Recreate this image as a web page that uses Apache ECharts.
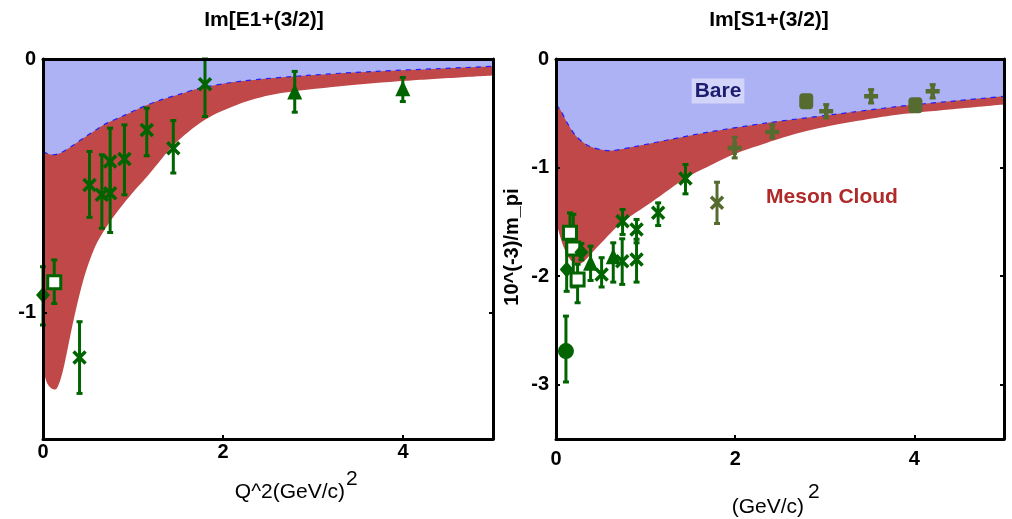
<!DOCTYPE html>
<html>
<head>
<meta charset="utf-8">
<script src="https://cdn.jsdelivr.net/npm/echarts@6/dist/echarts.min.js"></script>
<style>
html,body{margin:0;padding:0;background:#fff;}
#c{width:1012px;height:519px;}
</style>
</head>
<body>
<div id="c"></div>
<script>
// ---------------- data ----------------
const titles = ['Im[E1+(3/2)]', 'Im[S1+(3/2)]'];
const xTickLabels = [0, 2, 4];
const leftYTickLabels = [0, -1];
const rightYTickLabels = [0, -1, -2, -3];

// Left panel bands
const leftBareX = [0, 0.06, 0.118, 0.2, 0.34, 0.45, 0.6, 0.71, 0.876, 1.05, 1.264, 1.5, 1.744, 2.19, 2.93, 3.67, 4.4, 5];
const leftBareY = [-0.365, -0.375, -0.378, -0.37, -0.339, -0.312, -0.277, -0.253, -0.227, -0.198, -0.167, -0.141, -0.115, -0.088, -0.065, -0.049, -0.038, -0.029];
const leftCloudX = [0, 0.04, 0.09, 0.136, 0.19, 0.247, 0.34, 0.45, 0.58, 0.71, 0.93, 1.19, 1.45, 1.8, 2.2, 2.56, 3.3, 4.03, 5];
const leftCloudY = [-1.22, -1.275, -1.30, -1.305, -1.27, -1.19, -1.03, -0.87, -0.74, -0.66, -0.556, -0.45, -0.34, -0.24, -0.175, -0.14, -0.108, -0.086, -0.065];

// Left panel data points
const leftPtX = [0, 0.125, 0.406, 0.517, 0.654, 0.746, 0.746, 0.905, 1.153, 1.448, 1.8, 2.797, 3.998];
const leftPtY = [-0.932, -0.881, -1.178, -0.497, -0.536, -0.53, -0.405, -0.395, -0.28, -0.352, -0.10, -0.128, -0.115];
const leftPtLo = [-1.05, -0.965, -1.32, -0.625, -0.668, -0.685, -0.52, -0.536, -0.382, -0.45, -0.227, -0.21, -0.168];
const leftPtHi = [-0.82, -0.793, -1.037, -0.365, -0.378, -0.40, -0.273, -0.26, -0.194, -0.243, 0, -0.049, -0.073];
const leftPtMark = ['diamond', 'openSquare', 'x', 'x', 'x', 'x', 'x', 'x', 'x', 'x', 'x', 'triangle', 'triangle'];
const leftPtSet = ['a', 'a', 'a', 'a', 'a', 'a', 'a', 'a', 'a', 'a', 'a', 'a', 'a'];

// Right panel bands
const rightBareX = [0, 0.05, 0.115, 0.226, 0.375, 0.598, 0.895, 1.267, 1.71, 2.35, 3.09, 3.83, 4.4, 5];
const rightBareY = [-0.42, -0.47, -0.574, -0.712, -0.804, -0.844, -0.804, -0.742, -0.672, -0.589, -0.512, -0.436, -0.39, -0.344];
const rightCloudX = [0, 0.08, 0.16, 0.245, 0.45, 0.71, 1.08, 1.452, 1.75, 1.976, 2.35, 2.72, 3.09, 3.46, 3.83, 4.39, 5];
const rightCloudY = [-1.5, -1.72, -1.85, -1.89, -1.74, -1.524, -1.31, -1.095, -0.97, -0.88, -0.773, -0.68, -0.611, -0.558, -0.512, -0.466, -0.42];

// Right panel data points
const rightPtX = [0.111, 0.119, 0.156, 0.193, 0.241, 0.283, 0.386, 0.509, 0.639, 0.739, 0.743, 0.899, 0.899, 1.14, 1.445, 1.797, 1.994, 2.414, 2.793, 3.016, 3.517, 4.011, 4.204];
const rightPtY = [-2.69, -1.938, -1.6, -1.745, -2.03, -1.78, -1.877, -1.984, -1.816, -1.862, -1.494, -1.57, -1.846, -1.417, -1.101, -1.325, -0.819, -0.672, -0.39, -0.482, -0.344, -0.427, -0.298];
const rightPtLo = [-2.975, -2.14, -1.76, -2.1, -2.245, -1.85, -2.04, -2.1, -2.055, -2.076, -1.616, -1.693, -2.055, -1.534, -1.242, -1.515, -0.911, -0.727, -0.42, -0.543, -0.405, -0.45, -0.359];
const rightPtHi = [-2.368, -1.6, -1.417, -1.43, -1.89, -1.70, -1.724, -1.83, -1.693, -1.656, -1.386, -1.478, -1.66, -1.325, -0.972, -1.135, -0.721, -0.604, -0.36, -0.42, -0.282, -0.40, -0.236];
const rightPtMark = ['circle', 'diamond', 'openSquare', 'openSquare', 'openSquare', 'diamond', 'triangle', 'x', 'triangle', 'x', 'x', 'x', 'x', 'x', 'x', 'x', 'plus', 'plus', 'square', 'plus', 'plus', 'square', 'plus'];
const rightPtSet = ['a', 'a', 'a', 'a', 'a', 'a', 'a', 'a', 'a', 'a', 'a', 'a', 'a', 'a', 'a', 'b', 'b', 'b', 'b', 'b', 'b', 'b', 'b'];

// ---------------- styling ----------------
const FONT = 'Liberation Sans, Arial, sans-serif';
const SET_COLOR = { a: '#006400', b: '#556b2f' };
const BLUE_FILL = '#adb2f5';
const RED_FILL = '#c04848';
const MARK = {
  diamond:    { symbol: 'diamond', size: [14, 16], fill: true },
  openSquare: { symbol: 'rect', size: 13, open: true },
  x:          { symbol: 'path://M0,0L10,10M10,0L0,10', size: 12, stroke: 3.5 },
  plus:       { symbol: 'path://M5,0L5,10M0,5L10,5', size: 14, stroke: 4.5 },
  triangle:   { symbol: 'triangle', size: [15, 16], fill: true },
  circle:     { symbol: 'circle', size: 16, fill: true },
  square:     { symbol: 'roundRect', size: [14, 16], fill: true }
};

function pairs(xs, ys) { return xs.map((x, i) => [x, ys[i]]); }

function pointItems(xs, ys, marks, sets) {
  return xs.map((x, i) => {
    const m = MARK[marks[i]], c = SET_COLOR[sets[i]];
    let style;
    if (m.fill) style = { color: c, borderWidth: 0, opacity: 1 };
    else if (m.open) style = { color: '#fff', borderColor: c, borderWidth: 3, opacity: 1 };
    else style = { color: 'rgba(0,0,0,0)', borderColor: c, borderWidth: m.stroke, opacity: 1 };
    return { value: [x, ys[i]], symbol: m.symbol, symbolSize: m.size, itemStyle: style };
  });
}

function errItems(xs, lo, hi, sets) {
  return xs.map((x, i) => ({ value: [x, lo[i], hi[i]], itemStyle: { color: SET_COLOR[sets[i]] } }));
}

function errRender(params, api) {
  const x = api.value(0);
  const p1 = api.coord([x, api.value(1)]);
  const p2 = api.coord([x, api.value(2)]);
  const color = api.visual('color');
  const st = { stroke: color, lineWidth: 3 };
  const cw = 3;
  return {
    type: 'group',
    children: [
      { type: 'line', shape: { x1: p1[0], y1: p1[1], x2: p2[0], y2: p2[1] }, style: st },
      { type: 'line', shape: { x1: p1[0] - cw, y1: p1[1], x2: p1[0] + cw, y2: p1[1] }, style: st },
      { type: 'line', shape: { x1: p2[0] - cw, y1: p2[1], x2: p2[0] + cw, y2: p2[1] }, style: st }
    ]
  };
}

const grids = [
  { left: 43, top: 59, width: 450, height: 380 },
  { left: 556, top: 59, width: 448, height: 380 }
];

function xAxes(gi) {
  const base = { gridIndex: gi, type: 'value', min: 0, max: 5, z: 10, splitLine: { show: false } };
  return [
    Object.assign({}, base, {
      position: 'bottom',
      axisLine: { show: true, onZero: false, lineStyle: { color: '#000', width: 3 } },
      axisTick: { show: true, inside: true, length: 4, lineStyle: { color: '#000', width: 2 }, customValues: xTickLabels },
      axisLabel: { show: true, customValues: xTickLabels, color: '#000', fontSize: 20, fontWeight: 'bold', fontFamily: FONT, margin: gi === 0 ? 3 : 10 }
    }),
    Object.assign({}, base, {
      position: 'top',
      axisLine: { show: true, onZero: false, lineStyle: { color: '#000', width: 3 } },
      axisTick: { show: false },
      axisLabel: { show: false }
    })
  ];
}

function yAxes(gi, min, labels) {
  const base = { gridIndex: gi, type: 'value', min: min, max: 0, z: 10, splitLine: { show: false } };
  const tickVals = labels.filter(v => v !== 0);
  return [
    Object.assign({}, base, {
      position: 'left',
      axisLine: { show: true, onZero: false, lineStyle: { color: '#000', width: 3 } },
      axisTick: { show: true, inside: true, length: 4, lineStyle: { color: '#000', width: 2 }, customValues: tickVals },
      axisLabel: { show: true, customValues: labels, color: '#000', fontSize: 20, fontWeight: 'bold', fontFamily: FONT, margin: 7 }
    }),
    Object.assign({}, base, {
      position: 'right',
      axisLine: { show: true, onZero: false, lineStyle: { color: '#000', width: 3 } },
      axisTick: { show: true, inside: true, length: 4, lineStyle: { color: '#000', width: 2 }, customValues: tickVals },
      axisLabel: { show: false }
    })
  ];
}

function bandSeries(xi, yi, cloudX, cloudY, bareX, bareY) {
  return [
    {
      type: 'line', xAxisIndex: xi, yAxisIndex: yi, data: pairs(cloudX, cloudY),
      smooth: 0.3, showSymbol: false, silent: true, z: 1,
      lineStyle: { width: 0 }, areaStyle: { origin: 'end', color: RED_FILL, opacity: 1 }
    },
    {
      type: 'line', xAxisIndex: xi, yAxisIndex: yi, data: pairs(bareX, bareY),
      smooth: 0.3, showSymbol: false, silent: true, z: 2,
      lineStyle: { width: 1.2, color: '#2020ff', type: [5, 5] },
      areaStyle: { origin: 'end', color: BLUE_FILL, opacity: 1 }
    }
  ];
}

function pointSeries(xi, yi, xs, ys, lo, hi, marks, sets) {
  return [
    { type: 'custom', xAxisIndex: xi, yAxisIndex: yi, renderItem: errRender, data: errItems(xs, lo, hi, sets), z: 5, silent: true, clip: false },
    { type: 'scatter', xAxisIndex: xi, yAxisIndex: yi, data: pointItems(xs, ys, marks, sets), z: 6, silent: true }
  ];
}

const option = {
  backgroundColor: '#fff',
  animation: false,
  title: [
    { text: titles[0], left: 259, top: 5, textAlign: 'center', textStyle: { fontSize: 21, fontWeight: 'bold', fontFamily: FONT, color: '#000' } },
    { text: titles[1], left: 764, top: 5, textAlign: 'center', textStyle: { fontSize: 21, fontWeight: 'bold', fontFamily: FONT, color: '#000' } }
  ],
  grid: grids,
  xAxis: [].concat(xAxes(0), xAxes(1)),
  yAxis: [].concat(yAxes(0, -1.5, leftYTickLabels), yAxes(1, -3.5, rightYTickLabels)),
  series: [].concat(
    bandSeries(0, 0, leftCloudX, leftCloudY, leftBareX, leftBareY),
    pointSeries(0, 0, leftPtX, leftPtY, leftPtLo, leftPtHi, leftPtMark, leftPtSet),
    bandSeries(2, 2, rightCloudX, rightCloudY, rightBareX, rightBareY),
    pointSeries(2, 2, rightPtX, rightPtY, rightPtLo, rightPtHi, rightPtMark, rightPtSet)
  ),
  graphic: [
    { type: 'text', x: 345, y: 492, z: 20, style: { text: 'Q^2(GeV/c)', font: '21px ' + FONT, fill: '#000', textAlign: 'right', textVerticalAlign: 'middle' } },
    { type: 'text', x: 346, y: 479, z: 20, style: { text: '2', font: '21px ' + FONT, fill: '#000', textAlign: 'left', textVerticalAlign: 'middle' } },
    { type: 'text', x: 804, y: 507, z: 20, style: { text: '(GeV/c)', font: '21px ' + FONT, fill: '#000', textAlign: 'right', textVerticalAlign: 'middle' } },
    { type: 'text', x: 808, y: 492, z: 20, style: { text: '2', font: '21px ' + FONT, fill: '#000', textAlign: 'left', textVerticalAlign: 'middle' } },
    { type: 'text', x: 512, y: 247, rotation: Math.PI / 2, z: 20, style: { text: '10^(-3)/m_pi', font: 'bold 20px ' + FONT, fill: '#000', textAlign: 'center', textVerticalAlign: 'middle' } },
    { type: 'text', x: 718, y: 91, z: 20, style: { text: 'Bare', font: 'bold 21px ' + FONT, fill: '#1c1c70', textAlign: 'center', textVerticalAlign: 'middle', backgroundColor: 'rgba(255,255,255,0.45)', padding: [2, 3] } },
    { type: 'text', x: 832, y: 197, z: 20, style: { text: 'Meson Cloud', font: 'bold 21px ' + FONT, fill: '#b02a2a', textAlign: 'center', textVerticalAlign: 'middle' } }
  ]
};

const chart = echarts.init(document.getElementById('c'), null, { renderer: 'canvas' });
chart.setOption(option);
</script>
</body>
</html>
